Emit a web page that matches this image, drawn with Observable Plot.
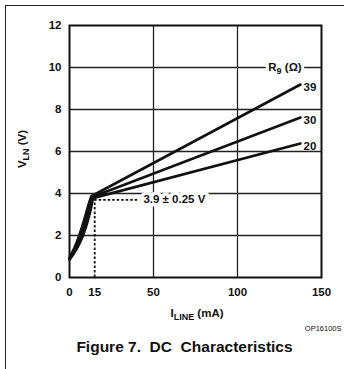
<!DOCTYPE html>
<html>
<head>
<meta charset="utf-8">
<script src="https://cdn.jsdelivr.net/npm/d3@7"></script>
<script src="https://cdn.jsdelivr.net/npm/@observablehq/plot@0.6"></script>
<style>
  html, body { margin: 0; padding: 0; background: #fff; }
  #wrap { position: relative; width: 344px; height: 369px; overflow: hidden; }
  #border { position: absolute; left: 5px; top: 5px; width: 340px; height: 380px;
            border-left: 1.5px solid #222; border-top: 1.5px solid #222; }
  #wrap svg { position: absolute; left: 0; top: 0; }
</style>
</head>
<body>
<div id="wrap"><div id="border"></div></div>
<script>
// ---- data ----
const xTicks = [0, 15, 50, 100, 150];
const yTicks = [0, 2, 4, 6, 8, 10, 12];
const xGrid = [50, 100];
const yGrid = [2, 4, 6, 8, 10];
const iLine39 = [0, 1.5, 3, 4.5, 6, 7.5, 9, 10.5, 11.8, 13, 137.5];
const vLn39   = [0.95, 1.18, 1.43, 1.72, 2.05, 2.42, 2.82, 3.25, 3.6, 3.87, 9.19];
const iLine30 = [0, 1.8, 3.5, 5.2, 7, 8.6, 10, 11.3, 12.5, 13.5, 137.5];
const vLn30   = [0.9, 1.12, 1.38, 1.68, 2.02, 2.4, 2.78, 3.17, 3.52, 3.83, 7.62];
const iLine20 = [0, 2, 4, 6, 8, 9.6, 11, 12.2, 13.2, 14, 137.5];
const vLn20   = [0.85, 1.07, 1.33, 1.63, 1.98, 2.35, 2.73, 3.1, 3.45, 3.78, 6.38];
const knee = { i: 15, v: 3.7, iEnd: 40.5 };
const kneeLabel = "3.9 ± 0.25 V";
const caption = "Figure 7.  DC  Characteristics";
const partNo = "OP16100S";

const series = [
  { name: "39", xs: iLine39, ys: vLn39 },
  { name: "30", xs: iLine30, ys: vLn30 },
  { name: "20", xs: iLine20, ys: vLn20 }
];
const rows = series.flatMap(s => s.xs.map((x, k) => ({ name: s.name, i: x, v: s.ys[k] })));
const ends = series.map(s => ({ name: s.name, i: s.xs[s.xs.length - 1], v: s.ys[s.ys.length - 1] }));

const font = "'Liberation Sans', Arial, Helvetica, sans-serif";

const chart = Plot.plot({
  width: 344,
  height: 369,
  marginLeft: 69,
  marginRight: 23,
  marginTop: 25,
  marginBottom: 92,
  style: { fontFamily: font, background: "transparent", color: "#111" },
  x: { domain: [0, 150] },
  y: { domain: [0, 12] },
  marks: [
    Plot.ruleX(xGrid, { stroke: "#222", strokeWidth: 1.3 }),
    Plot.ruleY(yGrid, { stroke: "#222", strokeWidth: 1.3 }),
    Plot.ruleX([knee.i], { y1: 0, y2: knee.v, stroke: "#111", strokeWidth: 1.8, strokeDasharray: "2.5,2" }),
    Plot.ruleY([knee.v], { x1: knee.i, x2: knee.iEnd, stroke: "#111", strokeWidth: 1.8, strokeDasharray: "2.5,2" }),
    Plot.line(rows, { x: "i", y: "v", z: "name", curve: "linear", stroke: "#111", strokeWidth: 2.6, strokeLinejoin: "round" }),
    Plot.text([kneeLabel], { x: 44, y: knee.v, text: d => d, textAnchor: "start", fontSize: 11.5, fontWeight: "bold",
      fill: "#111", stroke: "white", strokeWidth: 7, letterSpacing: "-0.3px" }),
    Plot.text(ends, { x: "i", y: "v", text: "name", textAnchor: "start", dx: 3, dy: 3, fontSize: 11.5,
      fontWeight: "bold", fill: "#111", letterSpacing: "-0.5px" }),
    Plot.frame({ stroke: "#111", strokeWidth: 2 }),
    Plot.axisX({ ticks: xTicks, tickSize: 0, tickPadding: 10, fontSize: 11.5, fontWeight: "bold", label: null, letterSpacing: "-0.5px" }),
    Plot.axisY({ ticks: yTicks, tickSize: 0, tickPadding: 8, fontSize: 11.5, fontWeight: "bold", label: null, letterSpacing: "-0.5px" }),
    Plot.text([partNo], { frameAnchor: "bottom-right", dx: 20, dy: 53, text: d => d, fontSize: 7.5, fill: "#111" }),
    Plot.text([caption], { frameAnchor: "bottom", dx: -11, dy: 74, text: d => d, fontSize: 15.5, fontWeight: "bold", fill: "#111" })
  ]
});

const svg = d3.select(chart);
const sx = chart.scale("x"), sy = chart.scale("y");

function subLabel(parent, main, sub, rest, attrs, halo) {
  const t = parent.append("text")
    .attr("font-family", font).attr("font-size", 11.5).attr("font-weight", "bold");
  for (const [k, v] of Object.entries(attrs)) t.attr(k, v);
  if (halo) t.attr("fill", "white").attr("stroke", "white").attr("stroke-width", 6);
  else t.attr("fill", "#111");
  t.append("tspan").text(main);
  t.append("tspan").attr("dy", 3).attr("font-size", 9).text(sub);
  t.append("tspan").attr("dy", -3).text(rest);
  return t;
}

// R9 (Ω) header on the 10 V gridline (halo then text)
const rAttrs = { x: 285, y: sy.apply(10) + 4 };
subLabel(svg, "R", "9", " (Ω)", rAttrs, true);
subLabel(svg, "R", "9", " (Ω)", rAttrs, false);

// X label
subLabel(svg, "I", "LINE", " (mA)", { x: sx.apply(75) + 2, y: 317, "text-anchor": "middle" }, false);

// Y label
subLabel(svg, "V", "LN", " (V)", { transform: `translate(26, ${sy.apply(6) - 2}) rotate(-90)`, "text-anchor": "middle" }, false);

document.getElementById("wrap").appendChild(chart);
</script>
</body>
</html>
